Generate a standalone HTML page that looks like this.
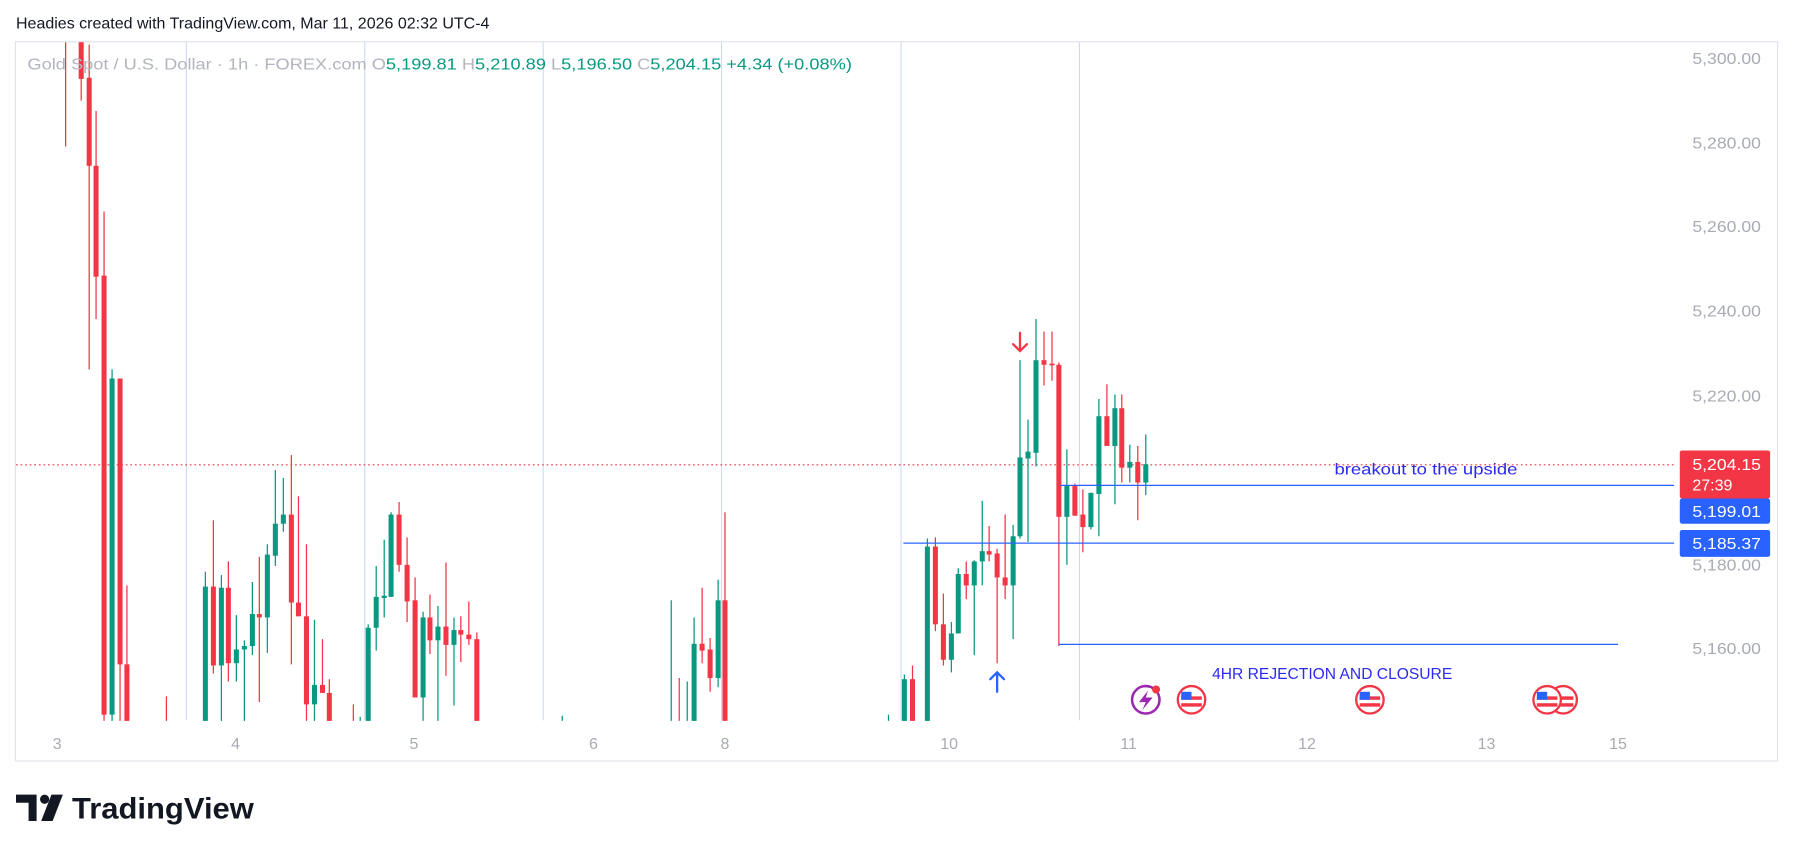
<!DOCTYPE html>
<html><head><meta charset="utf-8"><style>
html,body{margin:0;padding:0;background:#fff;width:1793px;height:853px;overflow:hidden}
svg{display:block}
text{font-family:"Liberation Sans",sans-serif}
</style></head><body>
<svg width="1793" height="853" viewBox="0 0 1568 746" preserveAspectRatio="none" xmlns="http://www.w3.org/2000/svg">
<defs><clipPath id="pc"><rect x="14" y="37" width="1450" height="593.5"/></clipPath></defs>
<rect width="1568" height="746" fill="#fff"/>
<text x="14" y="25" font-size="14" fill="#131722">Headies created with TradingView.com, Mar 11, 2026 02:32 UTC-4</text>
<rect x="13.5" y="36.5" width="1541" height="629" fill="none" stroke="#e0e3eb" stroke-width="1"/>
<g stroke="#cfdaf3" stroke-width="1">
<path d="M163 37V630M319 37V630M475 37V630M631 37V630M788 37V630M944 37V630"/>
</g>
<g clip-path="url(#pc)">
<path d="M14 406.5H1464" stroke="#f23645" stroke-width="1" stroke-dasharray="1.5,2.5"/>
<g stroke="#089981" stroke-width="1.1" fill="none">
<path d="M98 323V631M179.6 500V631M193.6 503V631M206.7 538V596M213.7 560V631M220.7 509V573M233.8 476V571M240.8 411V495M247.8 418V465M275 542V631M315 627V631M322 546V631M329 495V569M336 472V540M342 448V522M370 535V631M383 530V631M397 540V617M491.7 626V631M587 525V631M601 596V631M607 540V631M628 507V601M777 625V631M790.9 590V631M811 471V631M832 544V588M838 497V554M852 490V573M859 438V512M886 459V559M892 315V471M899 367V474M906 279V408M933 393V494M954 431V463M961 349V469M975 345V441M988 389V422M1002 380V433"/>
</g>
<g fill="#089981">
<rect x="95.8" y="331" width="4.4" height="294"/><rect x="177.4" y="513" width="4.4" height="118"/><rect x="191.4" y="514" width="4.4" height="68"/><rect x="204.5" y="568" width="4.4" height="12"/><rect x="211.5" y="565" width="4.4" height="3"/><rect x="218.5" y="537" width="4.4" height="28"/><rect x="231.6" y="485" width="4.4" height="55"/><rect x="238.6" y="458" width="4.4" height="28"/><rect x="245.6" y="450" width="4.4" height="8"/><rect x="272.8" y="599" width="4.4" height="17"/><rect x="319.8" y="549" width="4.4" height="82"/><rect x="326.8" y="522" width="4.4" height="27"/><rect x="333.8" y="521" width="4.4" height="2"/><rect x="339.8" y="450" width="4.4" height="72"/><rect x="367.8" y="540" width="4.4" height="70"/><rect x="380.8" y="548" width="4.4" height="12"/><rect x="394.8" y="551" width="4.4" height="13"/><rect x="604.8" y="563" width="4.4" height="68"/><rect x="625.8" y="525" width="4.4" height="68"/><rect x="788.7" y="594" width="4.4" height="37"/><rect x="808.8" y="478" width="4.4" height="153"/><rect x="829.8" y="554" width="4.4" height="23"/><rect x="835.8" y="502" width="4.4" height="52"/><rect x="849.8" y="491" width="4.4" height="21"/><rect x="856.8" y="482" width="4.4" height="9"/><rect x="883.8" y="469" width="4.4" height="43"/><rect x="889.8" y="400" width="4.4" height="69"/><rect x="896.8" y="395" width="4.4" height="6"/><rect x="903.8" y="315" width="4.4" height="81"/><rect x="930.8" y="425" width="4.4" height="27"/><rect x="951.8" y="431" width="4.4" height="30"/><rect x="958.8" y="364" width="4.4" height="68"/><rect x="972.8" y="357" width="4.4" height="33"/><rect x="985.8" y="404" width="4.4" height="5"/><rect x="999.8" y="406" width="4.4" height="16"/>
</g>
<g stroke="#f23645" stroke-width="1.1" fill="none">
<path d="M57.4 35V128M71 35V88M78 39V323M84 97V279M91 185V631M105 331V631M111 512V631M145.5 609V631M186.6 455V589M199.7 491V596M226.8 487V614M254.8 398V581M261 434V539M268 476V631M282 559V606M288 594V631M309 616V631M349 439V500M356 470V544M363 505V610M376 520V572M390 492V591M403 539V579M410 526V564M417 553V631M594 593V631M614 514V580M621 558V605M634 448V631M798 582V631M818 470V552M825 519V582M845 491V524M865 460V491M872 480V580M879 450V524M913 290V337M920 290V333M926 317V565M940 423V451M947 428V483M968 336V390M981 345V422M995 390V455"/>
</g>
<g fill="#f23645">
<rect x="55.2" y="35" width="4.4" height="2"/><rect x="68.8" y="35" width="4.4" height="34"/><rect x="75.8" y="68" width="4.4" height="77"/><rect x="81.8" y="145" width="4.4" height="97"/><rect x="88.8" y="241" width="4.4" height="384"/><rect x="102.8" y="331" width="4.4" height="250"/><rect x="108.8" y="581" width="4.4" height="50"/><rect x="184.4" y="513" width="4.4" height="69"/><rect x="197.5" y="514" width="4.4" height="66"/><rect x="224.6" y="537" width="4.4" height="3"/><rect x="252.6" y="450" width="4.4" height="77"/><rect x="258.8" y="527" width="4.4" height="12"/><rect x="265.8" y="539" width="4.4" height="77"/><rect x="279.8" y="599" width="4.4" height="7"/><rect x="285.8" y="606" width="4.4" height="25"/><rect x="346.8" y="450" width="4.4" height="44"/><rect x="353.8" y="494" width="4.4" height="32"/><rect x="360.8" y="525" width="4.4" height="85"/><rect x="373.8" y="540" width="4.4" height="20"/><rect x="387.8" y="548" width="4.4" height="16"/><rect x="400.8" y="551" width="4.4" height="4"/><rect x="407.8" y="555" width="4.4" height="4"/><rect x="414.8" y="559" width="4.4" height="72"/><rect x="611.8" y="563" width="4.4" height="6"/><rect x="618.8" y="568" width="4.4" height="25"/><rect x="631.8" y="525" width="4.4" height="106"/><rect x="795.8" y="594" width="4.4" height="37"/><rect x="815.8" y="478" width="4.4" height="68"/><rect x="822.8" y="546" width="4.4" height="31"/><rect x="842.8" y="502" width="4.4" height="10"/><rect x="862.8" y="482" width="4.4" height="3"/><rect x="869.8" y="484" width="4.4" height="21"/><rect x="876.8" y="505" width="4.4" height="7"/><rect x="910.8" y="315" width="4.4" height="4"/><rect x="917.8" y="318" width="4.4" height="1.5"/><rect x="923.8" y="319" width="4.4" height="133"/><rect x="937.8" y="425" width="4.4" height="26"/><rect x="944.8" y="450" width="4.4" height="11"/><rect x="965.8" y="364" width="4.4" height="26"/><rect x="978.8" y="357" width="4.4" height="52"/><rect x="992.8" y="404" width="4.4" height="18"/>
</g>
</g>
<g stroke="#2962ff" stroke-width="1.1" fill="none">
<path d="M790 475H1464"/>
<path d="M927 424.5H1464"/>
<path d="M926 563.5H1415"/>
</g>
<text x="1167" y="415" font-size="14" fill="#2b2bf0" textLength="160" lengthAdjust="spacingAndGlyphs">breakout to the upside</text>
<text x="1060" y="594" font-size="14" fill="#2b2bf0" textLength="210" lengthAdjust="spacingAndGlyphs">4HR REJECTION AND CLOSURE</text>
<g stroke="#f23645" stroke-width="2" fill="none" stroke-linecap="round"><path d="M892 291V307M886 301L892 307L898 301"/></g>
<g stroke="#2962ff" stroke-width="2" fill="none" stroke-linecap="round"><path d="M872 588V605M866 594L872 588L878 594"/></g>
<circle cx="1002" cy="612" r="12" fill="#fff" stroke="#9c27b0" stroke-width="2.2"/>
<path d="M1004 604L996 614H1002L999 621L1008 610H1002Z" fill="#9c27b0"/>
<circle cx="1011" cy="603" r="3.5" fill="#f23645"/>
<g>
<circle cx="1367" cy="612" r="12" fill="#fff" stroke="#f23645" stroke-width="2"/>
<rect x="1358" y="609" width="18" height="3" fill="#f23645"/><rect x="1358" y="615" width="18" height="3" fill="#f23645"/>
<circle cx="1353" cy="612" r="12" fill="#fff" stroke="#f23645" stroke-width="2"/>
<rect x="1344" y="609" width="18" height="3" fill="#f23645"/><rect x="1344" y="615" width="18" height="3" fill="#f23645"/><rect x="1344" y="605" width="9" height="7" fill="#2962ff"/>
<circle cx="1042" cy="612" r="12" fill="#fff" stroke="#f23645" stroke-width="2"/>
<rect x="1033" y="609" width="18" height="3" fill="#f23645"/><rect x="1033" y="615" width="18" height="3" fill="#f23645"/><rect x="1033" y="605" width="9" height="7" fill="#2962ff"/>
<circle cx="1198" cy="612" r="12" fill="#fff" stroke="#f23645" stroke-width="2"/>
<rect x="1189" y="609" width="18" height="3" fill="#f23645"/><rect x="1189" y="615" width="18" height="3" fill="#f23645"/><rect x="1189" y="605" width="9" height="7" fill="#2962ff"/>
</g>
<text x="24" y="61" font-size="14" textLength="721" lengthAdjust="spacingAndGlyphs"><tspan fill="#b2b5be">Gold Spot / U.S. Dollar · 1h · FOREX.com  O</tspan><tspan fill="#089981">5,199.81</tspan><tspan fill="#b2b5be">  H</tspan><tspan fill="#089981">5,210.89</tspan><tspan fill="#b2b5be">  L</tspan><tspan fill="#089981">5,196.50</tspan><tspan fill="#b2b5be">  C</tspan><tspan fill="#089981">5,204.15  +4.34 (+0.08%)</tspan></text>
<g font-size="14" fill="#a8abb3">
<text x="1480" y="56" textLength="60" lengthAdjust="spacingAndGlyphs">5,300.00</text><text x="1480" y="130" textLength="60" lengthAdjust="spacingAndGlyphs">5,280.00</text><text x="1480" y="203" textLength="60" lengthAdjust="spacingAndGlyphs">5,260.00</text><text x="1480" y="277" textLength="60" lengthAdjust="spacingAndGlyphs">5,240.00</text><text x="1480" y="351" textLength="60" lengthAdjust="spacingAndGlyphs">5,220.00</text><text x="1480" y="499" textLength="60" lengthAdjust="spacingAndGlyphs">5,180.00</text><text x="1480" y="572" textLength="60" lengthAdjust="spacingAndGlyphs">5,160.00</text>
</g>
<rect x="1469" y="394" width="79" height="42" rx="2" fill="#f23645"/>
<text x="1480" y="411" font-size="14" fill="#fff" textLength="60" lengthAdjust="spacingAndGlyphs">5,204.15</text>
<text x="1480" y="429" font-size="14" fill="#fff">27:39</text>
<rect x="1469" y="436" width="79" height="22" rx="2" fill="#2962ff"/>
<text x="1480" y="452" font-size="14" fill="#fff" textLength="60" lengthAdjust="spacingAndGlyphs">5,199.01</text>
<rect x="1469" y="463.5" width="79" height="23.5" rx="2" fill="#2962ff"/>
<text x="1480" y="480" font-size="14" fill="#fff" textLength="60" lengthAdjust="spacingAndGlyphs">5,185.37</text>
<g font-size="14" fill="#a8abb3" text-anchor="middle">
<text x="50" y="655">3</text><text x="206" y="655">4</text><text x="362" y="655">5</text><text x="519" y="655">6</text><text x="634" y="655">8</text><text x="830" y="655">10</text><text x="987" y="655">11</text><text x="1143" y="655">12</text><text x="1300" y="655">13</text><text x="1415" y="655">15</text>
</g>
<g fill="#131722">
<path d="M14 695H32V718H25V702H14Z"/>
<circle cx="39" cy="699" r="4"/>
<path d="M45 695H55L46 718H36Z"/>
</g>
<text x="63" y="716" font-size="26" font-weight="bold" fill="#131722" textLength="159" lengthAdjust="spacingAndGlyphs">TradingView</text>
</svg>
</body></html>
